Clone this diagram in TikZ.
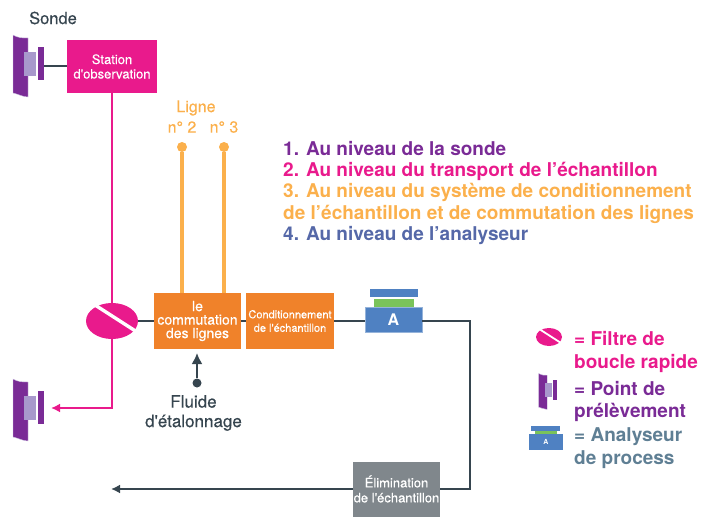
\documentclass[tikz,border=0pt]{standalone}
\usepackage{fontspec}
\setmainfont{TeX Gyre Heros}
\newfontfamily\moyen[FakeBold=0.25]{TeX Gyre Heros}
\usetikzlibrary{shapes.geometric,arrows.meta}
\definecolor{rosevif}{HTML}{E91A8C}
\definecolor{violet}{HTML}{7A2B96}
\definecolor{lavande}{HTML}{A898CC}
\definecolor{orange}{HTML}{F0822A}
\definecolor{jaune}{HTML}{FBB04C}
\definecolor{bleu}{HTML}{4F81C2}
\definecolor{vert}{HTML}{7AC35A}
\definecolor{ardoise}{HTML}{36454F}
\definecolor{gris}{HTML}{80878C}
\definecolor{indigo}{HTML}{5568A8}
\definecolor{grisbleu}{HTML}{5F7F94}
\tikzset{
  boite/.style={rectangle,inner sep=0pt,text=white,align=center},
  txt/.style={inner sep=0pt,align=left,anchor=west,font=\fontsize{19}{22.5}\selectfont\bfseries},
  noir/.style={ardoise,line width=2pt},
  rose/.style={rosevif,line width=1.8pt},
  ligne/.style={jaune,line width=3.4pt},
  pics/sonde/.style={code={
    \fill[violet,draw=lavande!50,line width=.4pt] (0,-31) .. controls (5,-28) and (10,-28) .. (15,-28)
      -- (15,31) .. controls (10,31) and (5,28) .. (0,27) -- cycle;
    \fill[lavande] (11,-14) rectangle (23,10);
    \node[transform shape,fill=violet,minimum width=6.5pt,minimum height=33pt,inner sep=0pt] (-bar) at (28,-2.5) {};
  }},
  pics/analyseur/.style={code={
    \node[fill=bleu,draw=bleu!60,line width=.4pt,minimum width=57pt,minimum height=25pt,inner sep=0pt,
      text=white,font=\fontsize{16}{16}\selectfont\bfseries] (-base) at (0,0) {A};
    \fill[vert] (-19.5,-13) rectangle (20,-21);
    \fill[bleu] (-24,-23) rectangle (24,-31);
  }}
}
\begin{document}
\begin{tikzpicture}[x=1pt,y=-1pt]
\useasboundingbox (0,0) rectangle (715,527);
% sondes
\pic (haut) at (13,66) {sonde};
\pic (bas) at (13,410) {sonde};
\node[font=\fontsize{16.5}{16.5}\selectfont\moyen,text=ardoise] (sonde) at (53,18) {Sonde};
\node[boite,fill=rosevif,minimum width=90pt,minimum height=53pt,font=\fontsize{13}{14.5}\selectfont\moyen] (station) at (112,66.5) {Station\\d'observation};
\draw[noir] (haut-bar.east |- station) -- (station);
% filtre
\node[ellipse,fill=rosevif,minimum width=52pt,minimum height=36pt,inner sep=0pt] (filtre) at (112,321) {};
\draw[white,line width=3.4pt] (95,305) -- (137,332);
% boites
\node[boite,fill=orange,minimum width=87pt,minimum height=56pt,font=\fontsize{14}{13.5}\selectfont\moyen] (comm) at (197.5,321) {le\\commutation\\des lignes};
\node[boite,fill=orange,minimum width=88pt,minimum height=56pt,font=\fontsize{11}{13.5}\selectfont\moyen] (cond) at (290,321) {Conditionnement\\de l'échantillon};
\pic (ana) at (393.5,320) {analyseur};
\node[boite,fill=gris,minimum width=87pt,minimum height=55pt,font=\fontsize{13}{15}\selectfont\moyen] (elim) at (396.5,489) {Élimination\\de l'échantillon};
% liaisons
\coordinate (coude) at (112,408);
\coordinate (angle) at (470,321);
\coordinate (angleb) at (470,489);
\coordinate (sortie) at (111,489);
\draw[rose] (station) -- (filtre);
\draw[rose,-{Latex[length=9pt,width=9pt]}] (filtre) -- (coude) -- (51,408);
\draw[noir] (filtre) -- (comm);
\draw[noir] (comm) -- (cond);
\draw[noir] (cond) -- (cond -| ana-base.west);
\draw[noir] (ana-base.east |- angle) -- (angle) -- (angleb) -- (elim);
\draw[noir,-{Latex[length=9pt,width=9pt]}] (elim) -- (sortie);
% lignes
\node[circle,fill=jaune,minimum size=10pt,inner sep=0pt] (l2) at (182,147) {};
\node[circle,fill=jaune,minimum size=10pt,inner sep=0pt] (l3) at (224,147) {};
\draw[ligne] (l2) -- (l2 |- comm.north);
\draw[ligne] (l3) -- (l3 |- comm.north);
\node[text=jaune,font=\fontsize{16}{16}\selectfont\moyen] (tl) at (196,108) {Ligne};
\node[text=jaune,font=\fontsize{16}{16}\selectfont\moyen] (tl2) at (182,127) {n° 2};
\node[text=jaune,font=\fontsize{16}{16}\selectfont\moyen] (tl3) at (224,127) {n° 3};
% fluide
\node[circle,fill=ardoise,minimum size=9pt,inner sep=0pt] (fl) at (197,383) {};
\coordinate (flh) at (197,353);
\draw[noir,-{Latex[length=11pt,width=11pt]}] (fl) -- (flh);
\node[text=ardoise,align=center,font=\fontsize{17}{19.5}\selectfont\moyen] (tfl) at (193.5,413) {Fluide\\d'étalonnage};
% niveaux
\node[txt,text=violet] (n1) at (283,149) {1. Au niveau de la sonde};
\node[txt,text=rosevif] (n2) at (283,171) {2. Au niveau du transport de l'échantillon};
\node[txt,text=jaune] (n3) at (283,192) {3. Au niveau du système de conditionnement};
\node[txt,text=jaune] (n3b) at (283,214) {de l'échantillon et de commutation des lignes};
\node[txt,text=indigo] (n4) at (283,236) {4. Au niveau de l'analyseur};
% legende
\node[ellipse,fill=rosevif,minimum width=26pt,minimum height=18pt,inner sep=0pt] (lf) at (549,337) {};
\draw[white,line width=1.8pt] (540,329.5) -- (561,343);
\node[txt,text=rosevif,align=left] (tf) at (574,352) {= Filtre de\\boucle rapide};
\pic[scale=.58] (lp) at (538.5,391.5) {sonde};
\node[txt,text=violet] (tp) at (574,401.5) {= Point de\\prélèvement};
\fill[bleu] (529,434) rectangle (563,450);
\fill[vert] (534.5,431) rectangle (557,434);
\fill[bleu] (531,426) rectangle (560,431);
\node[text=white,font=\fontsize{7}{7}\selectfont\bfseries] (la) at (546,442) {A};
\node[txt,text=grisbleu] (ta) at (574,448) {= Analyseur\\de process};
\end{tikzpicture}
\end{document}
